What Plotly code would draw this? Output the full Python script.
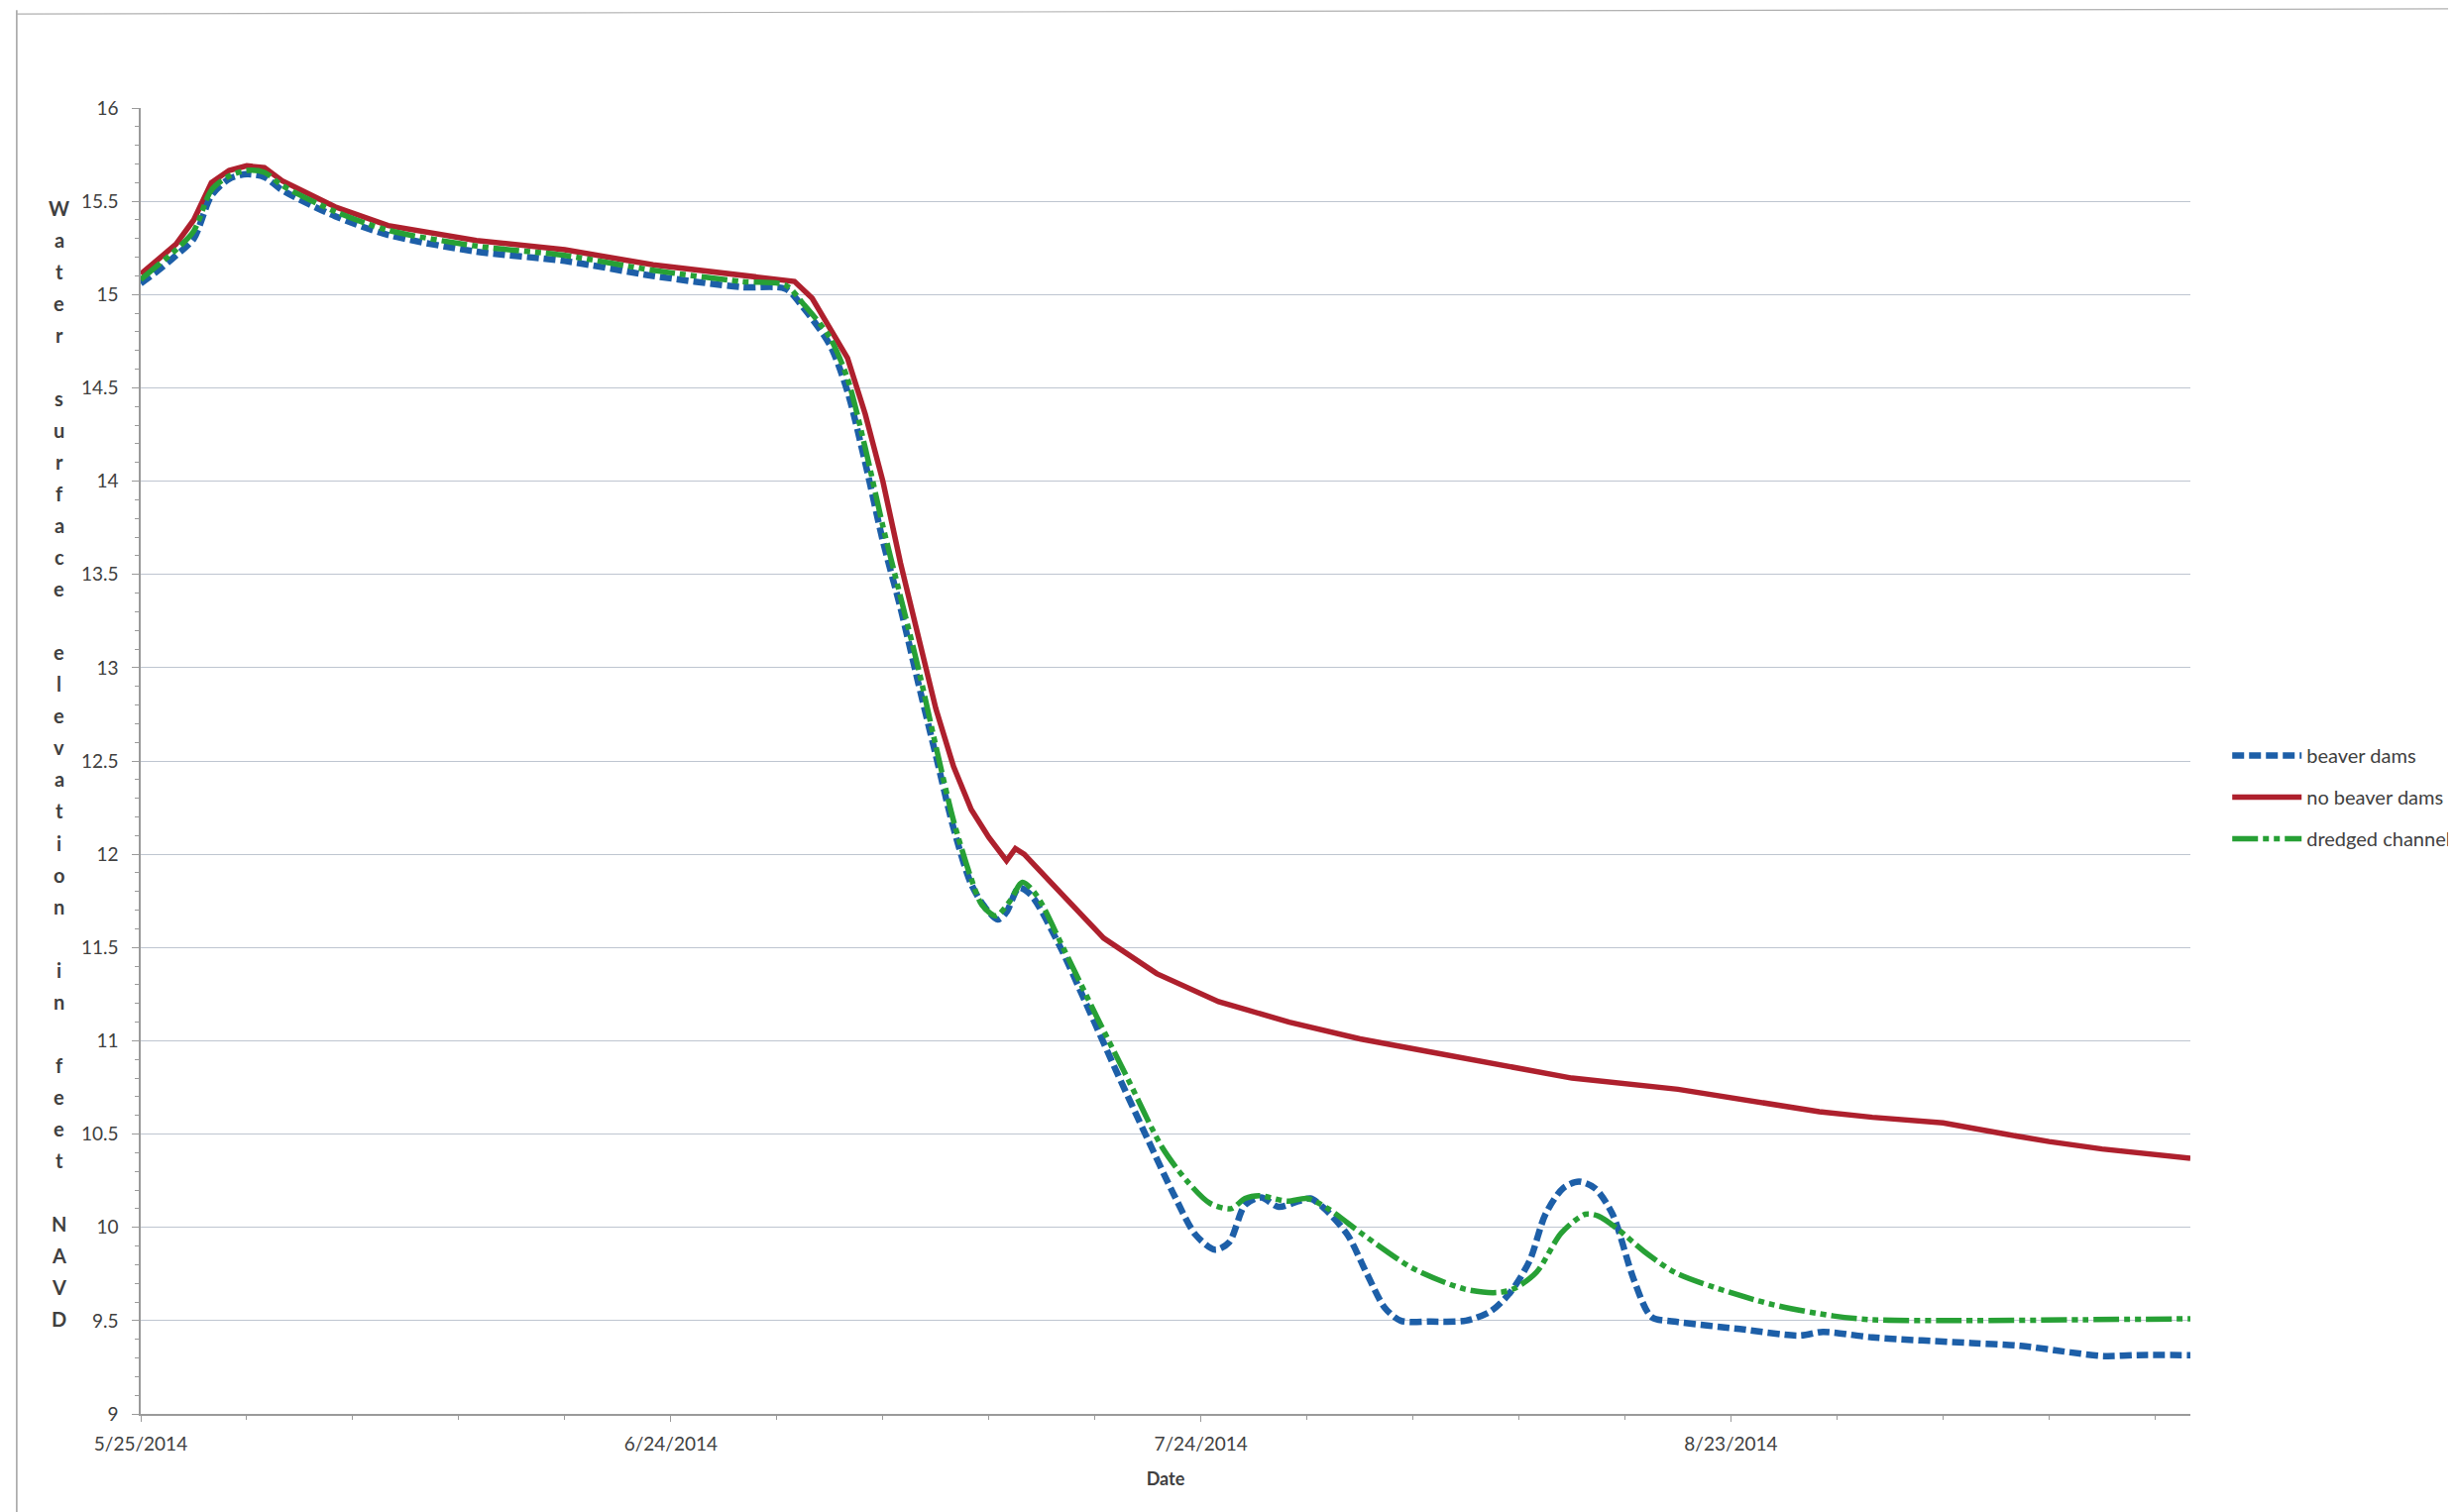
import pandas as pd
import plotly.graph_objects as go

START = "2014-05-25"
END = "2014-09-18"

# day offsets from 5/25/2014 and water surface elevation (ft NAVD)
no_dams_days = [0, 1, 2, 3, 4, 5, 6, 7, 8, 11, 14, 19, 24, 29, 34, 37, 38, 39, 40, 41, 42, 43, 44, 45, 46, 47, 48, 49, 49.5, 50,
                52, 54.5, 57.5, 61, 65, 69, 73, 77, 81, 87, 91, 95, 98, 102, 105.5, 108, 111, 116]
no_dams_vals = [15.11, 15.19, 15.27, 15.40, 15.60, 15.665, 15.69, 15.68, 15.61, 15.47, 15.37, 15.29, 15.24, 15.16, 15.10, 15.07,
                14.98, 14.82, 14.66, 14.36, 14.00, 13.56, 13.17, 12.78, 12.47, 12.24, 12.09, 11.965, 12.03, 12.00,
                11.80, 11.55, 11.36, 11.21, 11.10, 11.01, 10.94, 10.87, 10.80, 10.74, 10.68, 10.62, 10.59, 10.56, 10.50,
                10.46, 10.42, 10.37]

dams_days = [0, 1, 2, 3, 4, 5, 6, 7, 8, 11, 14, 19, 24, 29, 34, 36.5, 37.5, 39, 40, 41, 42, 43, 44, 45, 46, 47, 47.75, 48.5,
             49, 49.7, 50.4, 52, 53.5, 55.2, 57, 58.5, 59.7, 60.8, 61.6, 62.5, 63.4, 64.4, 65.5, 66.2, 67, 68.3, 69.4,
             70.4, 71.3, 73, 75, 76.4, 77.5, 78.6, 79.5, 80.5, 81.4, 82.3, 83.3, 84.5, 85.5, 86.8, 90.5, 93.9, 95.2,
             98, 103.6, 106.4, 109.2, 111.1, 113, 116]
dams_vals = [15.06, 15.13, 15.21, 15.30, 15.53, 15.62, 15.645, 15.63, 15.56, 15.42, 15.32, 15.23, 15.18, 15.10, 15.04, 15.03,
             14.93, 14.73, 14.48, 14.10, 13.68, 13.32, 12.92, 12.53, 12.14, 11.84, 11.72, 11.65, 11.69, 11.82, 11.78,
             11.51, 11.20, 10.84, 10.47, 10.17, 9.96, 9.88, 9.92, 10.12, 10.16, 10.11, 10.14, 10.155, 10.10, 9.96, 9.75,
             9.57, 9.50, 9.495, 9.50, 9.55, 9.65, 9.82, 10.07, 10.21, 10.245, 10.21, 10.07, 9.72, 9.52, 9.495, 9.455,
             9.42, 9.44, 9.41, 9.38, 9.365, 9.33, 9.31, 9.315, 9.315]

dredged_days = [0, 1, 2, 3, 4, 5, 6, 7, 8, 11, 14, 19, 24, 29, 34, 36.5, 37.5, 39, 40, 41, 42, 43, 44, 45, 46, 47, 47.6,
                48.4, 49.2, 49.9, 50.7, 52.2, 54.1, 56, 57.8, 59.2, 60.5, 61.7, 62.5, 63.3, 64.9, 66, 67.2, 69.2, 72,
                74.9, 76.7, 77.7, 79, 80.4, 81.75, 82.5, 83.6, 85.1, 86.8, 89, 92.4, 95.8, 98, 103, 110, 116]
dredged_vals = [15.08, 15.16, 15.24, 15.34, 15.56, 15.635, 15.665, 15.655, 15.585, 15.445, 15.345, 15.26, 15.21, 15.13,
                15.07, 15.05, 14.95, 14.77, 14.55, 14.18, 13.76, 13.38, 13.00, 12.58, 12.18, 11.87, 11.73, 11.67, 11.75,
                11.85, 11.78, 11.50, 11.13, 10.77, 10.43, 10.25, 10.13, 10.10, 10.155, 10.17, 10.14, 10.155, 10.10, 9.96,
                9.78, 9.67, 9.65, 9.67, 9.76, 9.97, 10.07, 10.06, 9.99, 9.87, 9.76, 9.68, 9.585, 9.525, 9.505, 9.50,
                9.505, 9.51]

x_tick_labels = ["5/25/2014", "6/24/2014", "7/24/2014", "8/23/2014"]
y_title = "Water surface elevation in feet NAVD"

base = pd.Timestamp(START)


def to_dates(days):
    return [base + pd.Timedelta(days=d) for d in days]


FONT = "Lato"
fig = go.Figure()

fig.add_trace(go.Scatter(
    x=to_dates(no_dams_days), y=no_dams_vals, name="no beaver dams", mode="lines",
    line=dict(color="#AE202D", width=5.5), legendrank=2, legendgroup="b"))
fig.add_trace(go.Scatter(
    x=to_dates(dams_days), y=dams_vals, name="beaver dams", mode="lines",
    line=dict(color="#1D5FA8", width=6.5, dash="12px,5px", shape="spline", smoothing=0.8),
    legendrank=1, legendgroup="a"))
fig.add_trace(go.Scatter(
    x=to_dates(dredged_days), y=dredged_vals, name="dredged channel", mode="lines",
    line=dict(color="#27A035", width=5.5, dash="26px,5px,6px,5px,6px,5px", shape="spline", smoothing=0.8),
    legendrank=3, legendgroup="c"))

tickvals = [pd.Timestamp(s) for s in ["2014-05-25", "2014-06-24", "2014-07-24", "2014-08-23"]]

fig.update_layout(
    width=2478, height=1526,
    margin=dict(l=134, r=276, t=101, b=107, autoexpand=False),
    paper_bgcolor="white", plot_bgcolor="white",
    font=dict(family=FONT, size=18, color="#404040"),
    showlegend=True,
    legend=dict(x=1.018, y=0.519, xanchor="left", yanchor="top", bgcolor="rgba(0,0,0,0)",
                font=dict(family=FONT, size=20, color="#404040"), itemwidth=70,
                tracegroupgap=13, traceorder="grouped"),
    xaxis=dict(
        type="date", range=[START, END], tickmode="array", tickvals=tickvals, ticktext=x_tick_labels,
        showgrid=False, zeroline=False, showline=True, linecolor="#9a9a9a", linewidth=1.5,
        ticks="outside", ticklen=6, tickcolor="#9a9a9a",
        minor=dict(dtick=6 * 86400000, tick0=START, ticks="outside", ticklen=4, tickcolor="#9a9a9a"),
        tickfont=dict(family=FONT, size=19, color="#404040"), ticklabelstandoff=6,
        title=dict(text="<b>Date</b>", font=dict(family=FONT, size=18, color="#404040"), standoff=20),
    ),
    yaxis=dict(
        range=[9, 16], tickmode="linear", tick0=9, dtick=0.5,
        showgrid=True, gridcolor="#bec5d0", gridwidth=1.3, zeroline=False,
        showline=True, linecolor="#9a9a9a", linewidth=1.5,
        ticks="outside", ticklen=7, tickcolor="#9a9a9a",
        minor=dict(dtick=0.1, ticks="outside", ticklen=4, tickcolor="#9a9a9a", showgrid=False),
        tickfont=dict(family=FONT, size=19, color="#404040"), ticklabelstandoff=10,
    ),
)

# vertical stacked-letter y-axis title
n = len(y_title)
top_v, bot_v = 15.464, 9.51
for i, ch in enumerate(y_title):
    if ch == " ":
        continue
    fig.add_annotation(x=-0.0397, xref="paper", y=top_v - i * (top_v - bot_v) / (n - 1), yref="y",
                       text=f"<b>{ch}</b>", showarrow=False, xanchor="center", yanchor="middle",
                       font=dict(family=FONT, size=20, color="#404040"))

# scanned page border
fig.add_shape(type="line", xref="paper", yref="paper", x0=-0.0605, x1=-0.0605, y0=-0.09, y1=1.075,
              line=dict(color="#a0a0a0", width=1.5))
fig.add_shape(type="line", xref="paper", yref="paper", x0=-0.0605, x1=1.14, y0=1.072, y1=1.076,
              line=dict(color="#b0b0b0", width=1.2))

fig.write_html("out.html")
